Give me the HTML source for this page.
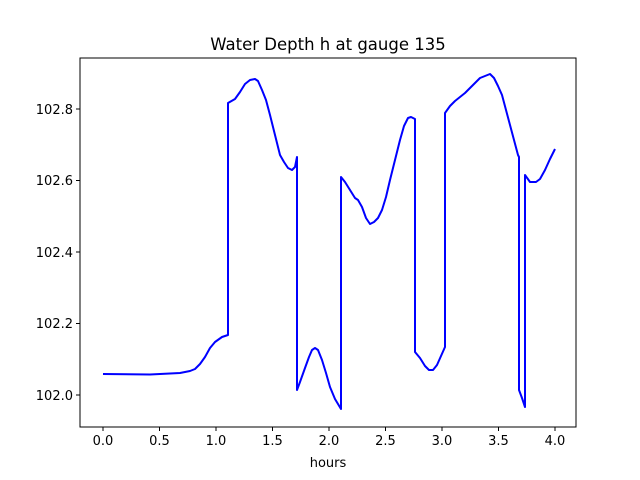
<!DOCTYPE html>
<html><head><style>body{margin:0;background:#fff}svg{display:block}text{font-family:"DejaVu Sans","Liberation Sans",sans-serif}</style></head>
<body>
<svg width="640" height="480" xmlns="http://www.w3.org/2000/svg">
<rect width="640" height="480" fill="#fff"/>
<text x="328" y="50" font-size="16.5" text-anchor="middle">Water Depth h at gauge 135</text>
<polyline fill="none" stroke="#0000ff" stroke-width="2" stroke-linejoin="round" points="103,374 150,374.5 180,373 190,371 195,369 200,364 205,357 210,348 215,342 222,337 228,335 228,103 235,99 240,92 245,84 250,80 255,79 258,81 262,90 266,100 270,115 275,135 280,155 284,162 288,168 292,170 295,167 297,157 297,390 300,382 305,368 309,357 312,350 315,348 318,350 322,360 326,373 330,387 335,399 341,409 341,177 345,182 350,190 355,198 358,200 362,207 366,218 370,224 374,222 378,218 382,210 386,197 390,180 395,160 400,140 404,126 408,118 411,117 415,119 415,352 420,358 425,366 429,370 433,370 437,365 441,356 445,347 445,113 450,106 455,101 460,97 465,93 470,88 475,83 480,78 485,76 490,74 494,78 498,86 502,95 506,110 510,125 514,140 518,155 519,157 519,390 522,398 525,407 525,175 530,182 536,182 540,179 545,170 550,159 555,149"/>
<rect x="80" y="58" width="496" height="369" fill="none" stroke="#000" stroke-width="1"/>
<g stroke="#000" stroke-width="1">
<line x1="103" y1="427" x2="103" y2="431"/><line x1="159.5" y1="427" x2="159.5" y2="431"/><line x1="216" y1="427" x2="216" y2="431"/><line x1="272.5" y1="427" x2="272.5" y2="431"/><line x1="329" y1="427" x2="329" y2="431"/><line x1="385.5" y1="427" x2="385.5" y2="431"/><line x1="442" y1="427" x2="442" y2="431"/><line x1="498.5" y1="427" x2="498.5" y2="431"/><line x1="555" y1="427" x2="555" y2="431"/>
<line x1="76" y1="395" x2="80" y2="395"/><line x1="76" y1="323.5" x2="80" y2="323.5"/><line x1="76" y1="252" x2="80" y2="252"/><line x1="76" y1="180.5" x2="80" y2="180.5"/><line x1="76" y1="109" x2="80" y2="109"/>
</g>
<g font-size="13" text-anchor="middle">
<text x="103" y="445">0.0</text><text x="159.5" y="445">0.5</text><text x="216" y="445">1.0</text><text x="272.5" y="445">1.5</text><text x="329" y="445">2.0</text><text x="385.5" y="445">2.5</text><text x="442" y="445">3.0</text><text x="498.5" y="445">3.5</text><text x="555" y="445">4.0</text>
<text x="328" y="467">hours</text>
</g>
<g font-size="13" text-anchor="end">
<text x="73" y="400">102.0</text><text x="73" y="328">102.2</text><text x="73" y="257">102.4</text><text x="73" y="185">102.6</text><text x="73" y="114">102.8</text>
</g>
</svg>
</body></html>
